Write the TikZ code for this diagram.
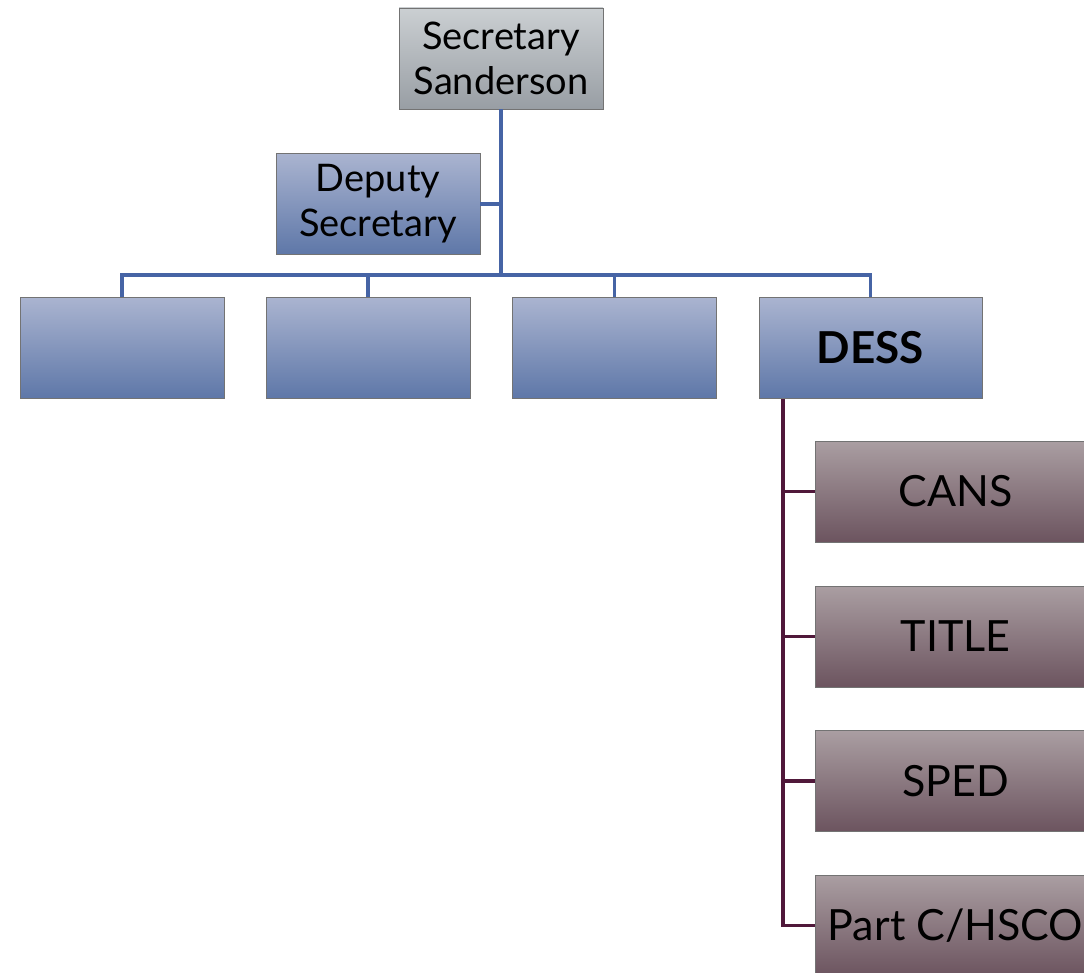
\documentclass[tikz,border=0pt]{standalone}
\usepackage{fontspec}
\setmainfont{Lato}
\begin{document}
\begin{tikzpicture}[x=1pt,y=-1pt,
  box/.style={draw=black!55, line width=0.8pt, inner sep=0pt, align=center,
    minimum width=204pt, minimum height=101pt, text=black},
  graybox/.style={box, top color={rgb,255:red,203;green,207;blue,210}, bottom color={rgb,255:red,152;green,158;blue,164}},
  bluebox/.style={box, top color={rgb,255:red,170;green,180;blue,208}, bottom color={rgb,255:red,94;green,119;blue,168}},
  maroonbox/.style={box, minimum width=281pt, top color={rgb,255:red,170;green,158;blue,162}, bottom color={rgb,255:red,108;green,84;blue,95}},
  bline/.style={draw={rgb,255:red,70;green,100;blue,165}, line width=3.8pt},
  mline/.style={draw={rgb,255:red,80;green,24;blue,58}, line width=3.8pt},
  lbl/.style={font=\fontsize{38}{45}\selectfont},
  blbl/.style={font=\fontsize{43}{48}\selectfont}
]
\useasboundingbox (0,0) rectangle (1084,973);
\coordinate (hub) at (501,275);
\coordinate (dspine) at (783,399);
\node[graybox, lbl] (sec) at (501,58.5) {Secretary\\Sanderson};
\node[bluebox, lbl] (dep) at (378,204) {Deputy\\Secretary};
\node[bluebox] (b1) at (122,348) {};
\node[bluebox] (b2) at (368,348) {};
\node[bluebox] (b3) at (614.5,348) {};
\node[bluebox, minimum width=223pt, font=\fontsize{44}{48}\selectfont] (dess) at (870.5,348) {\textbf{DESS}};
\node[maroonbox, blbl] (cans) at (955.5,491.5) {CANS};
\node[maroonbox, blbl] (title) at (955.5,636.5) {TITLE};
\node[maroonbox, blbl] (sped) at (955.5,781) {SPED};
\node[maroonbox, blbl] (part) at (955.5,925.5) {Part C/HSCO};
\draw[bline] (sec.south) -- (hub);
\draw[bline] (dep.east) -- (dep.east -| hub);
\draw[bline] (b1.north) |- (hub) -| (dess.north);
\draw[bline] (b2.north) -- (b2.north |- hub);
\draw[bline] (b3.north) -- (b3.north |- hub);
\draw[mline] (dspine) |- (cans.west);
\draw[mline] (dspine) |- (title.west);
\draw[mline] (dspine) |- (sped.west);
\draw[mline] (dspine) |- (part.west);
\end{tikzpicture}
\end{document}
